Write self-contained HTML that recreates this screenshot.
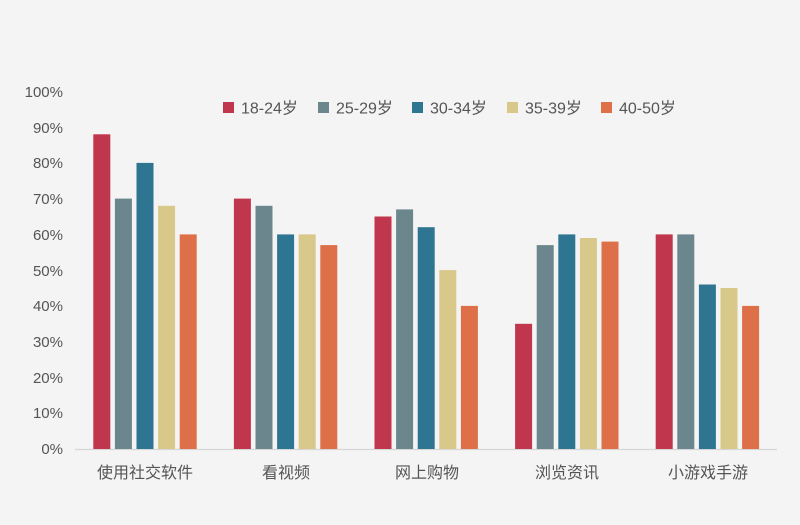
<!DOCTYPE html>
<html><head><meta charset="utf-8"><style>
html,body{margin:0;padding:0;background:#f4f4f4;}
svg{display:block;}
text{font-family:"Liberation Sans","Noto Sans CJK SC",sans-serif;fill:#555;}
</style></head><body>
<svg width="800" height="525" xmlns="http://www.w3.org/2000/svg">
<rect width="800" height="525" fill="#f4f4f4"/>
<g font-size="15" text-anchor="end">
<text x="63" y="454">0%</text>
<text x="63" y="418">10%</text>
<text x="63" y="383">20%</text>
<text x="63" y="347">30%</text>
<text x="63" y="311">40%</text>
<text x="63" y="276">50%</text>
<text x="63" y="240">60%</text>
<text x="63" y="204">70%</text>
<text x="63" y="168">80%</text>
<text x="63" y="133">90%</text>
<text x="63" y="97">100%</text>
</g>
<line x1="75" y1="449.5" x2="777" y2="449.5" stroke="#d6d6d6" stroke-width="1.2"/>
<g font-size="16" text-anchor="middle" fill="#555">
<text x="145" y="478">使用社交软件</text>
<text x="286" y="478">看视频</text>
<text x="427" y="478">网上购物</text>
<text x="567" y="478">浏览资讯</text>
<text x="708" y="478">小游戏手游</text>
</g>
<g font-size="16">
<rect x="223" y="102" width="11" height="11" fill="#c0364c"/><text x="241" y="113.5">18-24岁</text>
<rect x="318" y="102" width="11" height="11" fill="#6b878d"/><text x="336" y="113.5">25-29岁</text>
<rect x="412" y="102" width="11" height="11" fill="#2e7591"/><text x="430" y="113.5">30-34岁</text>
<rect x="507" y="102" width="11" height="11" fill="#d8c98a"/><text x="525" y="113.5">35-39岁</text>
<rect x="601" y="102" width="11" height="11" fill="#dd7048"/><text x="619" y="113.5">40-50岁</text>
</g>
<g>
<rect x="93.3" y="134.3" width="17" height="314.7" fill="#c0364c"/>
<rect x="114.9" y="198.6" width="17" height="250.4" fill="#6b878d"/>
<rect x="136.5" y="162.9" width="17" height="286.1" fill="#2e7591"/>
<rect x="158.1" y="205.8" width="17" height="243.2" fill="#d8c98a"/>
<rect x="179.7" y="234.4" width="17" height="214.6" fill="#dd7048"/>

<rect x="233.9" y="198.6" width="17" height="250.4" fill="#c0364c"/>
<rect x="255.5" y="205.8" width="17" height="243.2" fill="#6b878d"/>
<rect x="277.1" y="234.4" width="17" height="214.6" fill="#2e7591"/>
<rect x="298.7" y="234.4" width="17" height="214.6" fill="#d8c98a"/>
<rect x="320.3" y="245.1" width="17" height="203.9" fill="#dd7048"/>

<rect x="374.5" y="216.5" width="17" height="232.5" fill="#c0364c"/>
<rect x="396.1" y="209.4" width="17" height="239.6" fill="#6b878d"/>
<rect x="417.7" y="227.2" width="17" height="221.8" fill="#2e7591"/>
<rect x="439.3" y="270.1" width="17" height="178.9" fill="#d8c98a"/>
<rect x="460.9" y="305.9" width="17" height="143.1" fill="#dd7048"/>

<rect x="515.1" y="323.8" width="17" height="125.2" fill="#c0364c"/>
<rect x="536.7" y="245.1" width="17" height="203.9" fill="#6b878d"/>
<rect x="558.3" y="234.4" width="17" height="214.6" fill="#2e7591"/>
<rect x="579.9" y="238.0" width="17" height="211.0" fill="#d8c98a"/>
<rect x="601.5" y="241.6" width="17" height="207.4" fill="#dd7048"/>

<rect x="655.7" y="234.4" width="17" height="214.6" fill="#c0364c"/>
<rect x="677.3" y="234.4" width="17" height="214.6" fill="#6b878d"/>
<rect x="698.9" y="284.5" width="17" height="164.5" fill="#2e7591"/>
<rect x="720.5" y="288.0" width="17" height="161.0" fill="#d8c98a"/>
<rect x="742.1" y="305.9" width="17" height="143.1" fill="#dd7048"/>
</g>
</svg>
</body></html>
